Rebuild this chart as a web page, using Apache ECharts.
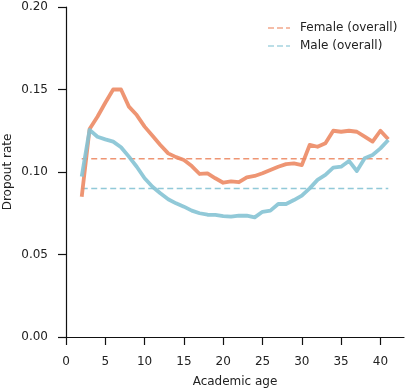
<!DOCTYPE html>
<html><head><meta charset="utf-8">
<script src="https://cdn.jsdelivr.net/npm/echarts@6/dist/echarts.min.js"></script>
<style>html,body{margin:0;padding:0;background:#fff}#c{width:406px;height:392px}</style>
</head><body><div id="c"></div>
<script>
const ages = [2,3,4,5,6,7,8,9,10,11,12,13,14,15,16,17,18,19,20,21,22,23,24,25,26,27,28,29,30,31,32,33,34,35,36,37,38,39,40,41];
const femaleRate = [0.085,0.126,0.1335,0.142,0.150,0.150,0.1396,0.1345,0.1275,0.122,0.1164,0.1113,0.109,0.1073,0.1036,0.0988,0.0992,0.0962,0.0935,0.0943,0.0938,0.0968,0.0976,0.0992,0.1012,0.1032,0.1048,0.1052,0.1042,0.1164,0.1153,0.1174,0.125,0.1244,0.125,0.1244,0.1214,0.1184,0.125,0.1198];
const maleRate = [0.0972,0.1255,0.1214,0.1198,0.1184,0.115,0.1093,0.1032,0.0962,0.0911,0.0871,0.0835,0.081,0.079,0.0766,0.075,0.0741,0.074,0.0733,0.0729,0.0735,0.0735,0.0725,0.0759,0.0766,0.0806,0.0806,0.083,0.0857,0.0901,0.0952,0.0982,0.1026,0.1032,0.1067,0.1006,0.1083,0.1103,0.1143,0.1194];
const femaleOverall = 0.108;
const maleOverall = 0.090;
const overallSpan = [2, 41];
const xTicks = [0,5,10,15,20,25,30,35,40];

const cF = '#ec8964', cM = '#85c3d4';
const font = 'DejaVu Sans';
const dashIcon = 'path://M0,0H6V1.6H0Z M9,0H15V1.6H9Z M18,0H22V1.6H18Z';
const pair = (xs, ys) => xs.map((x,i)=>[x, ys[i]]);
const chart = echarts.init(document.getElementById('c'), null, {renderer:'canvas'});
chart.setOption({
  animation:false,
  grid:{left:66,right:2,top:7,bottom:55,containLabel:false,outerBoundsMode:'none'},
  legend:{
    data:[{name:'Female (overall)',icon:dashIcon},{name:'Male (overall)',icon:dashIcon}],
    orient:'vertical', left:263, top:17, itemWidth:22, itemHeight:12, itemGap:6,
    symbolKeepAspect:true,
    itemStyle:{opacity:0.75},
    textStyle:{fontFamily:font,fontSize:12,color:'#222',padding:[0,0,0,5]}
  },
  xAxis:{
    type:'value', min:0, max:43,
    name:'Academic age', nameLocation:'middle', nameGap:39, nameMoveOverlap:false,
    nameTextStyle:{fontFamily:font,fontSize:12,color:'#222'},
    axisLine:{lineStyle:{color:'#111',width:1.2}},
    axisTick:{length:8,lineStyle:{color:'#111',width:1.2},customValues:xTicks},
    axisLabel:{fontFamily:font,fontSize:12,color:'#222',margin:19,customValues:xTicks},
    splitLine:{show:false}
  },
  yAxis:{
    type:'value', min:0, max:0.2, interval:0.05,
    name:'Dropout rate', nameLocation:'middle', nameGap:52, nameMoveOverlap:false,
    nameTextStyle:{fontFamily:font,fontSize:12,color:'#222'},
    axisLine:{show:true,lineStyle:{color:'#111',width:1.2}},
    axisTick:{show:true,length:8,lineStyle:{color:'#111',width:1.2}},
    axisLabel:{fontFamily:font,fontSize:12,color:'#222',margin:18,formatter:v=>v.toFixed(2)},
    splitLine:{show:false}
  },
  series:[
    {name:'Female (overall)',type:'line',symbol:'none',data:overallSpan.map(x=>[x,femaleOverall]),
      lineStyle:{color:cF,width:1.6,type:[6,3.5],opacity:0.9},itemStyle:{color:cF}},
    {name:'Male (overall)',type:'line',symbol:'none',data:overallSpan.map(x=>[x,maleOverall]),
      lineStyle:{color:cM,width:1.6,type:[6,3.5],opacity:0.9},itemStyle:{color:cM}},
    {name:'Female',type:'line',symbol:'none',data:pair(ages,femaleRate),
      lineStyle:{color:cF,width:3.8,opacity:0.9,join:'round'}},
    {name:'Male',type:'line',symbol:'none',data:pair(ages,maleRate),
      lineStyle:{color:cM,width:3.8,opacity:0.9,join:'round'}}
  ]
});
</script></body></html>
